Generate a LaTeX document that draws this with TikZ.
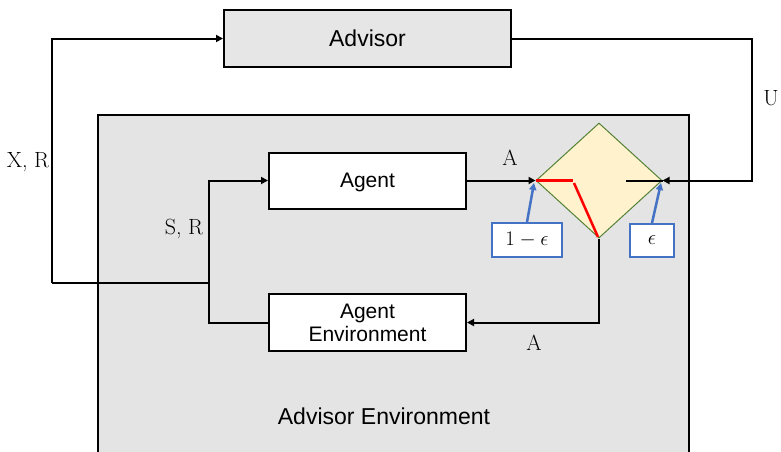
\documentclass[tikz,border=0pt]{standalone}
\usepackage{fontspec}
\newfontfamily\arialf{Liberation Sans}
\usetikzlibrary{arrows.meta,shapes.geometric}
\definecolor{boxgray}{HTML}{E6E6E6}
\definecolor{envgray}{HTML}{E4E4E4}
\definecolor{dfill}{HTML}{FFF2CC}
\definecolor{dline}{HTML}{548235}
\definecolor{bluel}{HTML}{4472C4}
\begin{document}
\begin{tikzpicture}[x=1pt,y=-1pt,
  blk/.style={draw=black,line width=2pt,inner sep=0pt,font=\arialf\fontsize{21}{25}\selectfont,align=center},
  arr/.style={line width=2pt,-{Triangle[length=7pt,width=7pt]}},
  conn/.style={line width=2pt},
  lbl/.style={font=\fontsize{22}{26}\selectfont,inner sep=0pt},
  bbox/.style={draw=bluel,line width=2pt,fill=white,inner sep=0pt,font=\fontsize{22}{26}\selectfont},
  barr/.style={draw=bluel,line width=2.5pt,-{Triangle[length=7pt,width=7pt]}},
  redl/.style={draw=red,line width=2.5pt}]
\path[clip] (0,0) rectangle (781,451);
% advisor environment
\path[draw=black,line width=2pt,fill=envgray] (98,115) rectangle (689,470);
\node[font=\arialf\fontsize{23}{27}\selectfont] (envlbl) at (384,416) {Advisor Environment};
% blocks
\node[blk,fill=boxgray,minimum width=287pt,minimum height=57pt,font=\arialf\fontsize{23}{27}\selectfont] (adv) at (367.5,38.5) {Advisor};
\node[blk,fill=white,minimum width=197pt,minimum height=56pt,text depth=0pt] (agent) at (367.5,180.5) {Agent};
\node[blk,fill=white,minimum width=197pt,minimum height=57pt] (aenv) at (367.5,322.5) {Agent\\[-2pt]Environment};
\node[diamond,draw=dline,line width=1pt,fill=dfill,inner sep=0pt,minimum width=126pt,minimum height=115pt] (sw) at (599,180.5) {};
% coordinates
\coordinate (j) at (209,283);
\coordinate (xl) at (52,283);
\coordinate (lb) at (209,322.5);
\coordinate (ur) at (752,180.5);
\coordinate (bk) at (626,180.5);
\coordinate (rA) at (573,180.5);
\coordinate (rB) at (574,183);
\coordinate (rC) at (598,237);
\coordinate (t1) at (534,183);
\coordinate (t2) at (661,183);
% connectors
\draw[arr] (agent.east) -- (sw.west);
\draw[arr] (aenv.west) -- (lb) |- (agent.west);
\draw[conn] (j) -- (xl);
\draw[arr] (xl) |- (adv.west);
\draw[arr] (adv.east) -| (ur) -- (sw.east);
\draw[conn] (bk) -- (sw.east);
\draw[arr] (sw.south) |- (aenv.east);
\draw[redl] (sw.west) -- (rA);
\draw[redl] (rB) -- (rC);
% blue boxes
\node[bbox,minimum width=70pt,minimum height=34pt] (b1) at (527,240) {$1-\epsilon$};
\node[bbox,minimum width=44pt,minimum height=33pt] (b2) at (652,240.5) {$\epsilon$};
\draw[barr] (b1.north) -- (t1);
\draw[barr] (b2.north) -- (t2);
% labels
\node[lbl] (la1) at (510,158) {A};
\node[lbl] (la2) at (534,343) {A};
\node[lbl] (lxr) at (28,162) {X, R};
\node[lbl] (lsr) at (184,229) {S, R};
\node[lbl] (lu) at (771,98) {U};
\end{tikzpicture}
\end{document}
